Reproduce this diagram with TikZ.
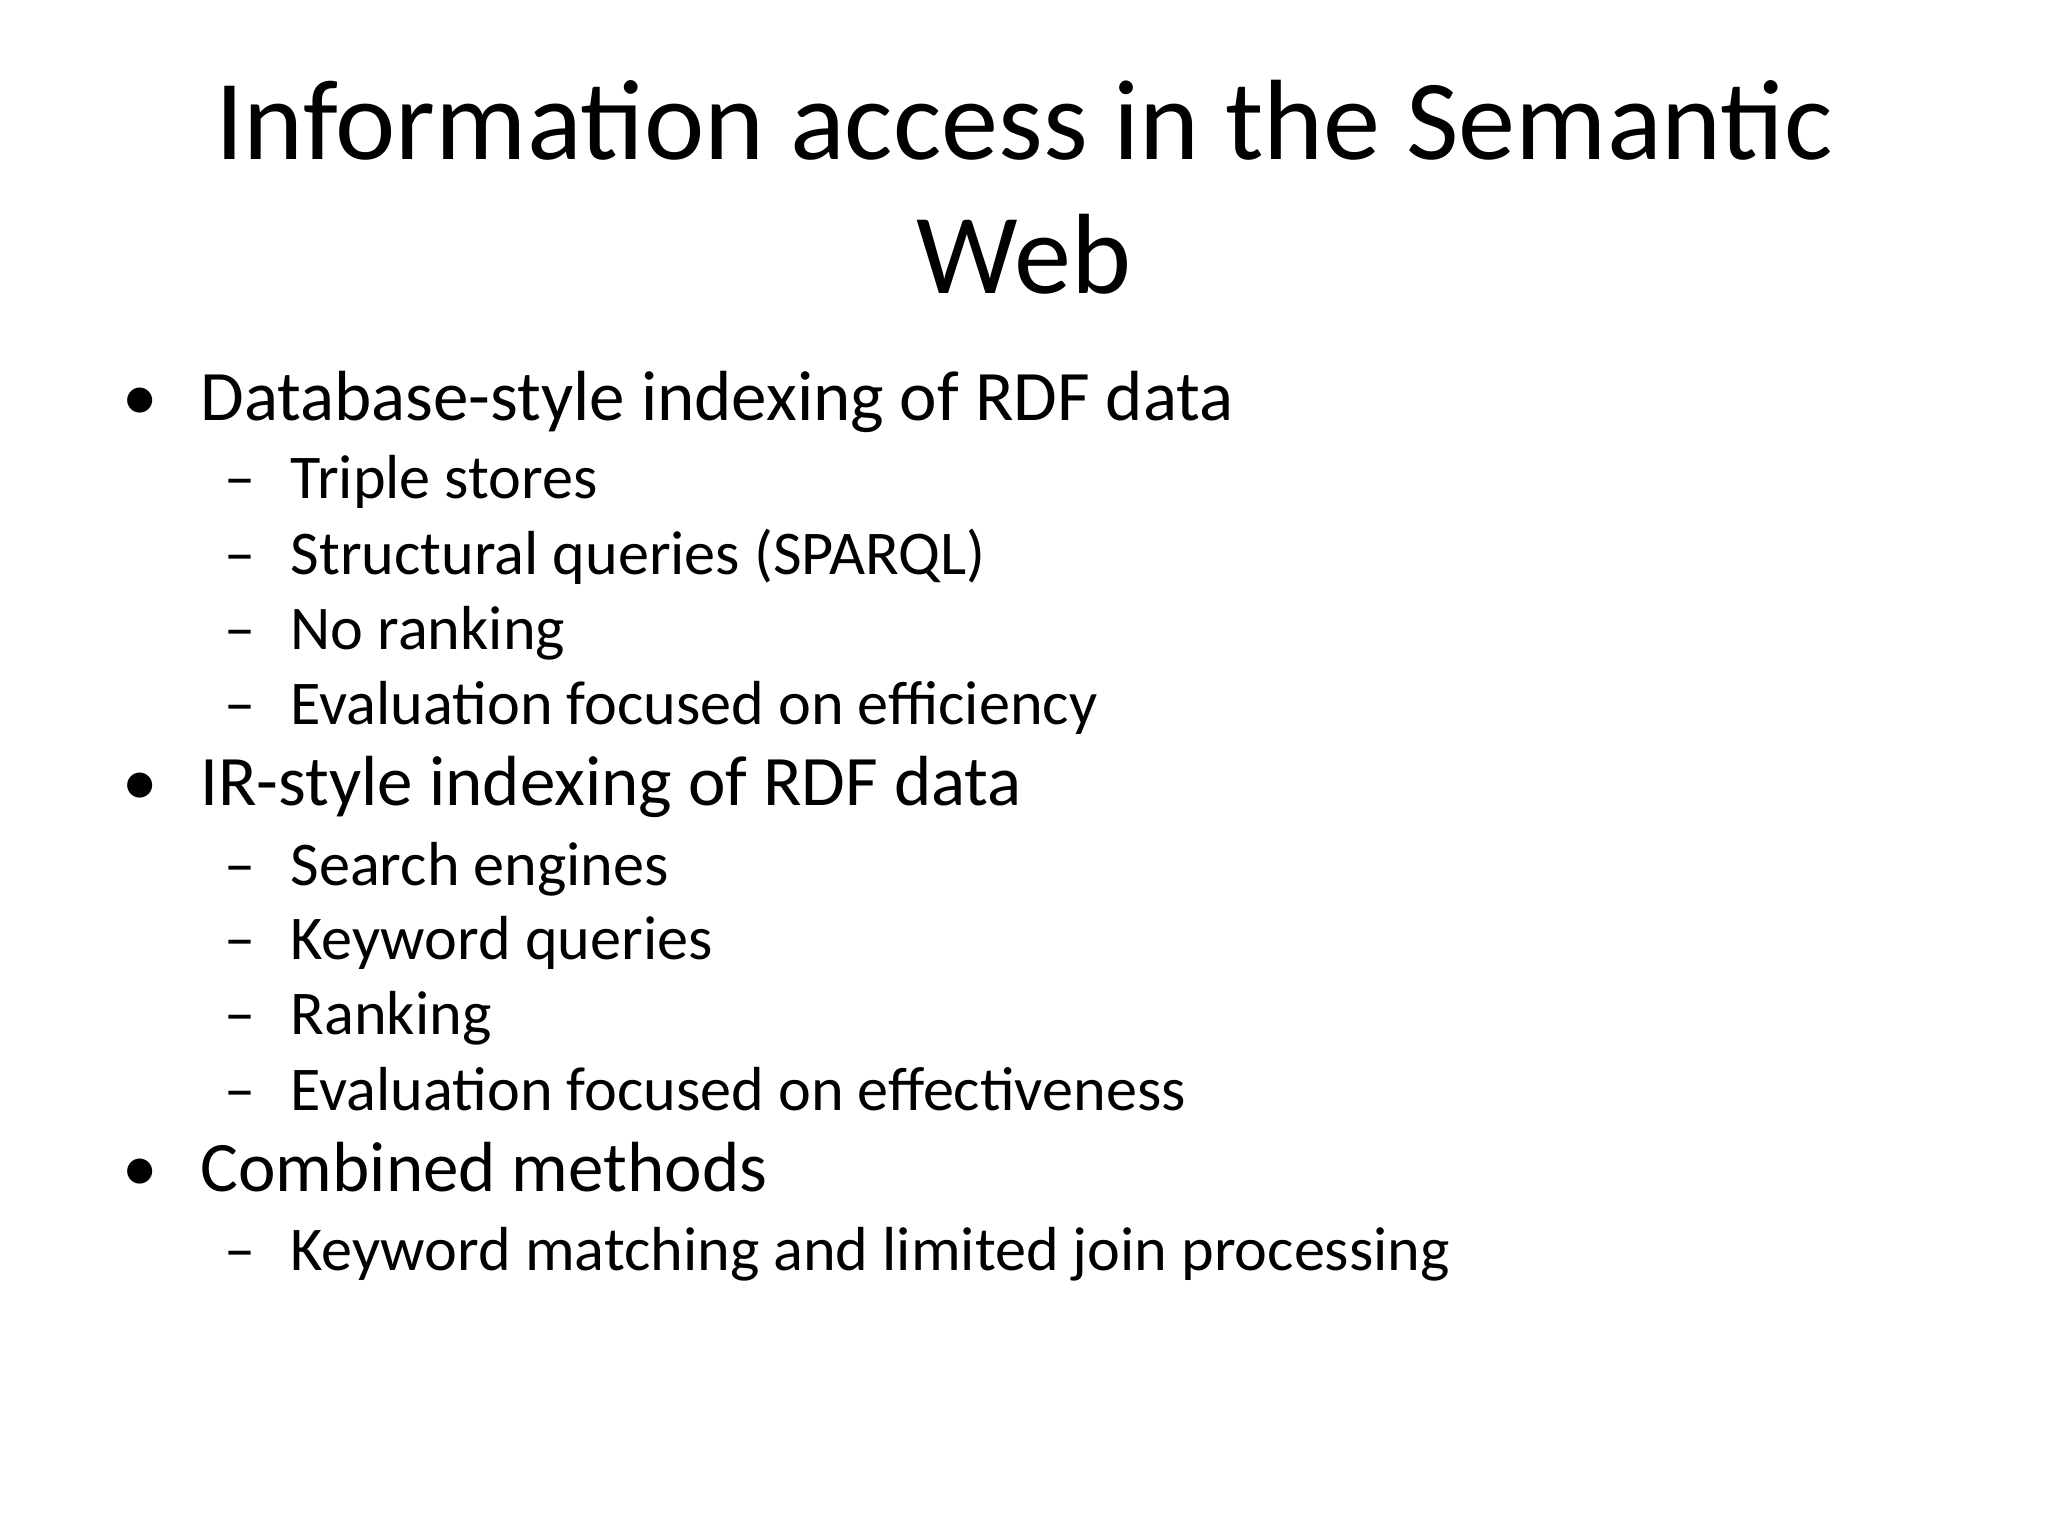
\documentclass[tikz,border=0pt]{standalone}
\usepackage{fontspec}
\setmainfont{Carlito}
\begin{document}
\begin{tikzpicture}[x=0.013061cm,y=-0.013061cm,
  title/.style={inner sep=0,font=\fontsize{32.5pt}{39pt}\selectfont},
  lone/.style={anchor=base west,inner sep=0,font=\fontsize{20.2pt}{24pt}\selectfont},
  ltwo/.style={anchor=base west,inner sep=0,font=\fontsize{17.7pt}{21pt}\selectfont}]
\useasboundingbox (0,0) rectangle (1568,1176);
\node[title,anchor=base] (t1) at (784,122) {Information access in the Semantic};
\node[title,anchor=base] (t2) at (784,225) {Web};
\foreach \n/\y/\t in {a/322/Database-style indexing of RDF data, b/617/IR-style indexing of RDF data, c/912/Combined methods}{
  \node[lone] (b\n) at (93,\y) {•};
  \node[lone] (\n) at (153,\y) {\t};
}
\foreach \n/\y/\t in {a1/382/Triple stores, a2/440/Structural queries (SPARQL), a3/497/No ranking, a4/555/Evaluation focused on efficiency, b1/678/Search engines, b2/735/Keyword queries, b3/792/Ranking, b4/850/Evaluation focused on effectiveness, c1/973/Keyword matching and limited join processing}{
  \node[ltwo] (d\n) at (171,\y) {–};
  \node[ltwo] (\n) at (222,\y) {\t};
}
\end{tikzpicture}
\end{document}
